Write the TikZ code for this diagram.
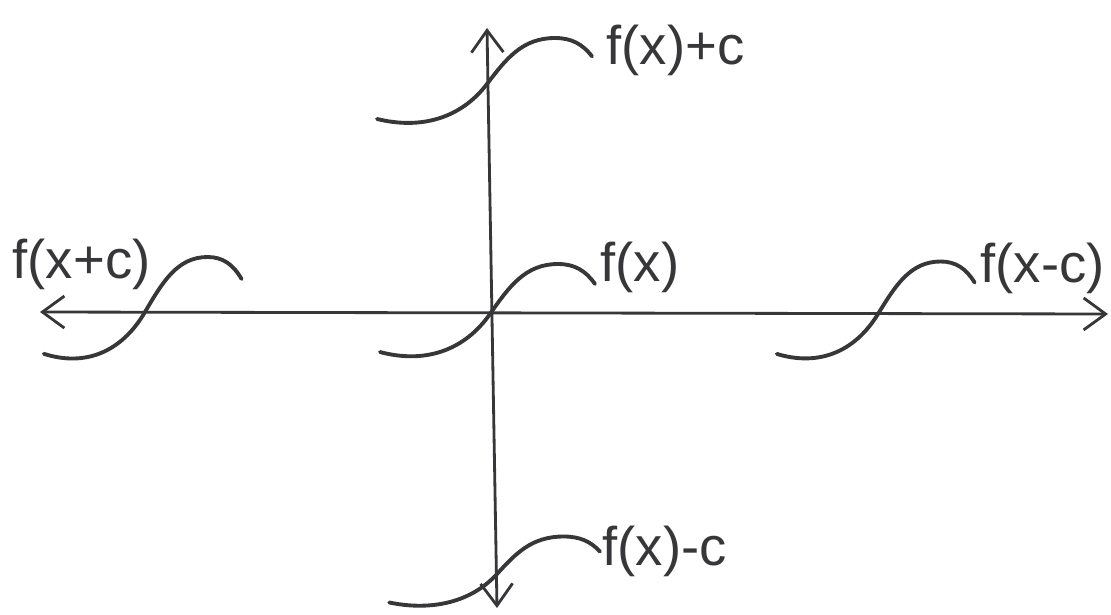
\documentclass[tikz,border=0pt]{standalone}
\usepackage{fontspec}
\setmainfont{Liberation Sans}
\definecolor{pencil}{RGB}{55, 55, 58}
\usetikzlibrary{arrows.meta, positioning}
\tikzset{
	axis/.style={{Straight Barb[length=2.2mm, width=3.2mm]}-{Straight Barb[length=2.2mm, width=3.2mm]}, line width=0.8pt, draw=pencil},
	sketch/.style={line width=1.1pt, draw=pencil, line cap=round},
	tag/.style={anchor=west, inner sep=0pt, text=pencil, font=\fontsize{15.5}{18}\selectfont},
	wave/.pic={\draw[sketch] (-1.1,-0.38) to[out=-15,in=235] (0,0) to[out=55,in=180] (0.68,0.5) to[out=0,in=125] (1.05,0.3);},
}

\begin{document}
\begin{tikzpicture}
		\useasboundingbox (0,0) rectangle (11.11,6.14);
		% axes
		\coordinate (xl) at (0.40,3.02);
		\coordinate (xr) at (11.08,3.00);
		\coordinate (yt) at (4.87,5.86);
		\coordinate (yb) at (4.97,0.06);
		\draw[axis] (xl) -- (xr);
		\draw[axis] (yb) -- (yt);
		% shifted curves
		\coordinate (base) at (4.90,3.00);
		\coordinate (up) at (4.87,5.30);
		\coordinate (down) at (4.97,0.40);
		\coordinate (left) at (1.45,3.02);
		\coordinate (right) at (8.78,3.00);
		\pic at (base) {wave};
		\pic[yscale=0.92] at (up) {wave};
		\pic[yscale=0.75, xscale=0.98] at (down) {wave};
		\pic[xscale=0.92, yscale=1.1] at (left) {wave};
		\pic[xscale=0.92, yscale=1.05] at (right) {wave};
		% labels
		\node[tag] (fbase) at (6.00,3.47) {f(x)};
		\node[tag] (fup) at (6.06,5.64) {f(x)+c};
		\node[tag] (fdown) at (6.02,0.63) {f(x)-c};
		\node[tag] (fleft) at (0.12,3.50) {f(x+c)};
		\node[tag] (fright) at (9.80,3.46) {f(x-c)};
	\end{tikzpicture}
\end{document}
